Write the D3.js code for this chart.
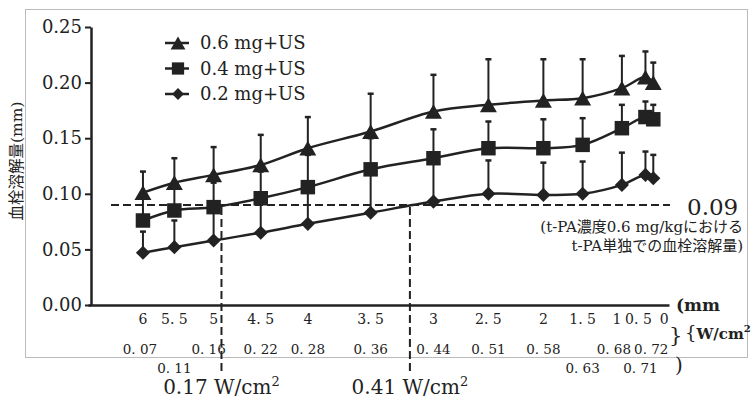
<!DOCTYPE html>
<html>
<head>
<meta charset="utf-8">
<script src="https://cdn.jsdelivr.net/npm/d3@7"></script>
<style>
  body { margin: 0; background: #fff; }
  svg { display: block; }
  text { font-family: "DejaVu Serif", "Noto Sans CJK JP", serif; fill: #222; }
</style>
</head>
<body>
<svg id="chart"></svg>
<script>
// distance (mm) and ultrasound intensity (W/cm2) at each measuring point
const distanceMm = ["6", "5. 5", "5", "4. 5", "4", "3. 5", "3", "2. 5", "2", "1. 5", "1", "0. 5", "0"];
const intensity = [0.07, 0.11, 0.16, 0.22, 0.28, 0.36, 0.44, 0.51, 0.58, 0.63, 0.68, 0.71, 0.72];
const intensityLabels = ["0. 07", "0. 11", "0. 16", "0. 22", "0. 28", "0. 36", "0. 44", "0. 51", "0. 58", "0. 63", "0. 68", "0. 71", "0. 72"];

// thrombolysis (mm), mean and upper SD
const seriesNames = ["0.6 mg+US", "0.4 mg+US", "0.2 mg+US"];
const dose06 = [0.101, 0.110, 0.117, 0.126, 0.141, 0.156, 0.174, 0.180, 0.184, 0.186, 0.195, 0.205, 0.200];
const dose06Sd = [0.019, 0.022, 0.025, 0.027, 0.028, 0.034, 0.033, 0.041, 0.037, 0.035, 0.029, 0.023, 0.018];
const dose04 = [0.076, 0.085, 0.088, 0.096, 0.106, 0.122, 0.132, 0.141, 0.141, 0.144, 0.159, 0.169, 0.167];
const dose04Sd = [0.024, 0.020, 0.022, 0.024, 0.029, 0.028, 0.026, 0.024, 0.026, 0.024, 0.021, 0.014, 0.013];
const dose02 = [0.047, 0.052, 0.058, 0.065, 0.073, 0.083, 0.093, 0.100, 0.099, 0.100, 0.108, 0.117, 0.114];
const dose02Sd = [0.019, 0.024, 0.030, 0.030, 0.030, 0.035, 0.035, 0.030, 0.029, 0.029, 0.029, 0.021, 0.021];

const yTicks = [0, 0.05, 0.10, 0.15, 0.20, 0.25];
const tpaAlone = 0.09;            // t-PA 0.6 mg/kg alone
const crossIntensity = [0.17, 0.41];

const width = 753;
const height = 401;
const ink = "#222";

const svg = d3.select("#chart").attr("width", width).attr("height", height);

// thin picture frame
svg.append("rect")
  .attr("x", 25.5).attr("y", 9.5)
  .attr("width", 722).attr("height", 348)
  .attr("fill", "none").attr("stroke", "#bbb").attr("stroke-width", 1);

const x = d3.scaleLinear().domain([0, 0.74]).range([88, 669]);
const y = d3.scaleLinear().domain([0, 0.25]).range([305, 27]);

// y axis
const yAxis = svg.append("g")
  .attr("transform", "translate(91,0)")
  .call(d3.axisLeft(y).tickValues(yTicks).tickFormat(d3.format(".2f")).tickSize(6).tickSizeOuter(0).tickPadding(3));
yAxis.select(".domain").attr("stroke", ink).attr("stroke-width", 2.5);
yAxis.selectAll(".tick line").attr("stroke", ink).attr("stroke-width", 2);
yAxis.selectAll(".tick text").attr("font-size", 18).attr("fill", ink)
  .style("font-family", "DejaVu Serif");

// x axis baseline (no ticks)
const xAxis = svg.append("g")
  .attr("transform", `translate(0,${y(0)})`)
  .call(d3.axisBottom(x).tickValues([]).tickSizeOuter(0));
xAxis.select(".domain").attr("stroke", ink).attr("stroke-width", 2.5);

// y axis title
svg.append("text")
  .attr("transform", "translate(22,161) rotate(-90)")
  .attr("text-anchor", "middle")
  .attr("font-size", 15.5)
  .text("血栓溶解量(mm)");

// x tick label rows
const mmNudge = { 10: -5, 11: -7, 12: 11 };
svg.append("g").selectAll("text")
  .data(distanceMm)
  .join("text")
  .attr("x", (d, i) => x(intensity[i]) + (mmNudge[i] || 0))
  .attr("y", 324)
  .attr("text-anchor", "middle")
  .attr("font-size", 14)
  .text(d => d);

const lowRow = new Set([1, 9, 11]);
const wNudge = { 0: -3, 2: -5, 10: -8, 11: -5, 12: -2 };
svg.append("g").selectAll("text")
  .data(intensityLabels)
  .join("text")
  .attr("x", (d, i) => x(intensity[i]) + (wNudge[i] || 0))
  .attr("y", (d, i) => lowRow.has(i) ? 373 : 354)
  .attr("text-anchor", "middle")
  .attr("font-size", 13.5)
  .text(d => d);

// unit labels on the right
svg.append("text").attr("x", 676).attr("y", 311)
  .attr("font-size", 17).attr("font-weight", "bold").text("(mm");
svg.append("text").attr("x", 669).attr("y", 342)
  .attr("font-size", 21).text("}");
const wUnit = svg.append("text").attr("x", 685).attr("y", 339).attr("font-size", 15);
wUnit.append("tspan").attr("font-size", 18).text("{");
wUnit.append("tspan").attr("font-weight", "bold").text("W/cm");
wUnit.append("tspan").attr("font-weight", "bold").attr("font-size", 10).attr("dy", -7).text("2");
svg.append("text").attr("x", 675).attr("y", 372)
  .attr("font-size", 20).text(")");

// dashed reference lines
const dashed = svg.append("g")
  .attr("stroke", ink).attr("stroke-width", 2).attr("stroke-dasharray", "8,4").attr("fill", "none");
dashed.append("line")
  .attr("x1", 111).attr("x2", 670)
  .attr("y1", y(tpaAlone)).attr("y2", y(tpaAlone));
dashed.selectAll(".v")
  .data(crossIntensity)
  .join("line")
  .attr("x1", d => x(d)).attr("x2", d => x(d))
  .attr("y1", y(tpaAlone) + 2).attr("y2", 374);

svg.append("g").selectAll("text")
  .data(crossIntensity)
  .join("text")
  .attr("x", d => x(d))
  .attr("y", 394)
  .attr("text-anchor", "middle")
  .attr("font-size", 20)
  .each(function (d) {
    const t = d3.select(this);
    t.append("tspan").text(`${d} W/cm`);
    t.append("tspan").attr("font-size", 13).attr("dy", -8).text("2");
  });

svg.append("text").attr("x", 687).attr("y", 215)
  .attr("font-size", 23).text(d3.format(".2f")(tpaAlone));
svg.append("text").attr("x", 743).attr("y", 232)
  .attr("text-anchor", "end").attr("font-size", 15)
  .text("(t-PA濃度0.6 mg/kgにおける");
svg.append("text").attr("x", 743).attr("y", 251)
  .attr("text-anchor", "end").attr("font-size", 15)
  .text("t-PA単独での血栓溶解量)");

// series
const series = [
  { name: seriesNames[0], values: dose06, sd: dose06Sd, shape: d3.symbolTriangle, size: 125, rot: 0 },
  { name: seriesNames[1], values: dose04, sd: dose04Sd, shape: d3.symbolSquare, size: 210, rot: 0 },
  { name: seriesNames[2], values: dose02, sd: dose02Sd, shape: d3.symbolSquare, size: 100, rot: 45 }
];

// triangles are drawn around their centroid; shift so the box is centred
const symbolShift = s => s.shape === d3.symbolTriangle ? Math.sqrt(s.size / (3 * Math.sqrt(3))) / 2 : 0;

const line = d3.line()
  .x((d, i) => x(intensity[i]))
  .y(d => y(d))
  .curve(d3.curveCatmullRom.alpha(0.5));

svg.append("g").selectAll("path")
  .data(series)
  .join("path")
  .attr("d", s => line(s.values))
  .attr("fill", "none")
  .attr("stroke", ink)
  .attr("stroke-width", 2.5);

const bars = svg.append("g").attr("stroke", ink);
series.forEach(s => {
  s.values.forEach((v, i) => {
    const cx = x(intensity[i]);
    bars.append("line")
      .attr("x1", cx).attr("x2", cx)
      .attr("y1", y(v)).attr("y2", y(v + s.sd[i]))
      .attr("stroke-width", 2);
    bars.append("line")
      .attr("x1", cx - 3).attr("x2", cx + 3)
      .attr("y1", y(v + s.sd[i])).attr("y2", y(v + s.sd[i]))
      .attr("stroke-width", 2.5);
  });
});

series.forEach(s => {
  svg.append("g").selectAll("path")
    .data(s.values)
    .join("path")
    .attr("d", d3.symbol().type(s.shape).size(s.size))
    .attr("transform", (v, i) => `translate(${x(intensity[i])},${y(v) + symbolShift(s)}) rotate(${s.rot})`)
    .attr("fill", ink);
});

// legend
const legend = svg.append("g").attr("transform", "translate(165,43)");
const legendSizes = [95, 150, 70];
series.forEach((s, k) => {
  const row = legend.append("g").attr("transform", `translate(0,${k * 25.5})`);
  row.append("line").attr("x1", 0).attr("x2", 24).attr("stroke", ink).attr("stroke-width", 2.5);
  const shift = s.shape === d3.symbolTriangle ? Math.sqrt(legendSizes[k] / (3 * Math.sqrt(3))) / 2 : 0;
  row.append("path")
    .attr("d", d3.symbol().type(s.shape).size(legendSizes[k]))
    .attr("transform", `translate(13,${shift}) rotate(${s.rot})`)
    .attr("fill", ink);
  row.append("text").attr("x", 35).attr("y", 6).attr("font-size", 18).text(s.name);
});
</script>
</body>
</html>
